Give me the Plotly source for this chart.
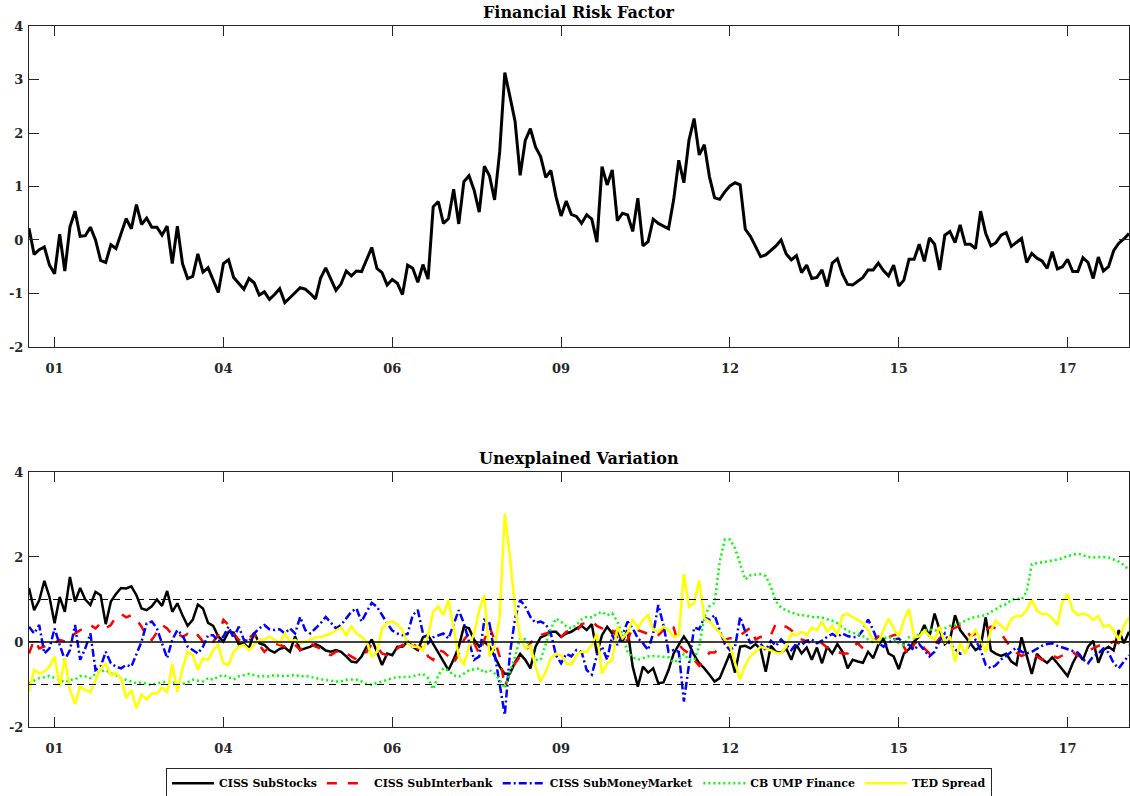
import plotly.graph_objects as go

# ---------------- data (monthly observations, index 0..215) ----------------
tick_labels = ["01", "04", "06", "09", "12", "15", "17"]
tick_index = [5, 38, 71, 104, 137, 170, 203]

financial_risk_factor = [
    0.22, -0.27, -0.18, -0.13, -0.47, -0.63, 0.11, -0.58, 0.24, 0.54,
    0.07, 0.08, 0.24, 0.0, -0.38, -0.42, -0.09, -0.16, 0.12, 0.40,
    0.21, 0.66, 0.29, 0.41, 0.24, 0.24, 0.09, 0.26, -0.44, 0.26,
    -0.44, -0.72, -0.68, -0.26, -0.60, -0.52, -0.75, -0.98, -0.44, -0.37,
    -0.70, -0.80, -0.92, -0.72, -0.80, -1.03, -0.97, -1.11, -1.02, -0.91,
    -1.17, -1.08, -0.98, -0.89, -0.92, -1.00, -1.10, -0.71, -0.52, -0.74,
    -0.94, -0.82, -0.58, -0.67, -0.58, -0.59, -0.35, -0.14,
    -0.53, -0.61, -0.84, -0.74, -0.81, -1.02, -0.47, -0.53, -0.79, -0.46,
    -0.73, 0.62, 0.72, 0.31, 0.40, 0.95, 0.30, 1.09, 1.20, 0.93,
    0.52, 1.38, 1.20, 0.75, 1.65, 3.13, 2.68, 2.22, 1.21, 1.86,
    2.08, 1.74, 1.56, 1.17, 1.30, 0.81, 0.45, 0.73, 0.48, 0.44,
    0.31, 0.47, 0.39, -0.04, 1.37, 1.03, 1.31, 0.36, 0.50, 0.47,
    0.16, 0.78, -0.11, -0.03, 0.39, 0.31, 0.26, 0.21, 0.75, 1.49,
    1.07, 1.87, 2.27, 1.59, 1.78, 1.18, 0.79, 0.76, 0.90, 1.01,
    1.07, 1.03, 0.20,
    0.07, -0.12, -0.31, -0.28, -0.19, -0.11, 0.0, -0.26, -0.37,
    -0.29, -0.61, -0.47, -0.72, -0.70, -0.56, -0.87, -0.43, -0.35, -0.64,
    -0.83, -0.84, -0.77, -0.70, -0.56, -0.56, -0.43, -0.57, -0.67, -0.47,
    -0.86, -0.75, -0.36, -0.36, -0.08, -0.40, 0.04, -0.08, -0.56, 0.09,
    0.16, -0.05, 0.28, -0.08, -0.08, -0.16, 0.54, 0.12, -0.11, -0.05,
    0.09, 0.14, -0.12, -0.05, 0.03, -0.42, -0.25, -0.34, -0.39, -0.53,
    -0.22, -0.54, -0.50, -0.36, -0.59, -0.59, -0.33, -0.42, -0.72, -0.32,
    -0.58, -0.50, -0.20, -0.06, 0.02, 0.12,
]

ciss_substocks = [
    1.27, 0.75, 0.98, 1.44, 1.06, 0.44, 1.06, 0.71, 1.53, 0.95,
    1.27, 1.00, 0.87, 1.18, 1.10, 0.42, 0.95, 1.13, 1.27, 1.26,
    1.31, 1.10, 0.79, 0.75, 0.84, 1.00, 0.85, 1.20, 0.71, 0.91,
    0.63, 0.38, 0.52, 0.88, 0.79, 0.45, 0.38, 0.13, 0.01, 0.24,
    0.22, -0.06, -0.03, -0.15, 0.22, -0.03, -0.07, -0.19, -0.25, -0.16,
    -0.13, -0.23, 0.13, -0.19,
    -0.15, -0.11, -0.05, -0.11, -0.20, -0.23, -0.19, -0.23, -0.34, -0.46,
    -0.48, -0.34, -0.11, 0.06, -0.23, -0.54, -0.27, -0.31, -0.11, -0.11,
    0.01, -0.11, -0.19, 0.11, 0.16, -0.05, -0.23, -0.46, -0.66, -0.41,
    -0.11, 0.36, 0.32, 0.05, -0.11, 0.01, -0.11, -0.34, -0.58, -0.75,
    -0.74, -0.48, -0.28, -0.42, -0.62, -0.11, 0.11, 0.16, 0.24, 0.24,
    0.12, 0.20, 0.24, 0.32,
    0.38, 0.28, 0.42, -0.27, 0.16, 0.36, 0.20, 0.28, 0.01, 0.28,
    -0.58, -1.05, -0.58, -0.72, -0.62, -0.97, -0.95, -0.66, -0.27, -0.07,
    0.13, -0.05, -0.31, -0.50, -0.62, -0.77, -0.93, -0.85, -0.58, -0.27,
    -0.72, -0.11, -0.09, -0.15, -0.05, -0.17, -0.70, -0.09, -0.23, -0.25,
    -0.15, -0.42, -0.07, -0.27, -0.13, -0.42, -0.13, -0.50, -0.11, -0.27,
    -0.05, -0.23, -0.62, -0.42, -0.46,
    -0.49, -0.23, -0.38, -0.07, 0.09, -0.27, -0.34, -0.64, -0.27, -0.17,
    0.01, 0.13, 0.40, 0.13, 0.67, 0.28, -0.05, 0.05, 0.63, 0.28,
    0.13, -0.03, -0.19, -0.11, 0.58, -0.20, -0.28, -0.33, -0.28, -0.46,
    -0.54, 0.11, -0.34, -0.75, -0.28, -0.41, -0.49, -0.36, -0.50, -0.66,
    -0.80, -0.50, -0.27, -0.42, -0.11, 0.03, -0.49, -0.19, -0.11, -0.20,
    0.28, -0.03, 0.24,
]

ciss_subinterbank = [
    -0.27, 0.05, -0.15, -0.11, -0.07, -0.02, 0.05, 0.01, 0.09, 0.20,
    0.28, 0.32, 0.40, 0.32, 0.44, 0.32, 0.40, 0.59, 0.66, 0.58,
    0.63, 0.53, 0.36, 0.12, 0.05, 0.24, 0.40, 0.32, 0.16, 0.20,
    0.12, 0.19, 0.09, 0.16, 0.01, 0.09, 0.01, 0.16, 0.52, 0.40,
    0.20, 0.05, 0.01, 0.09, 0.20, -0.07, -0.23, -0.11, -0.03, -0.07,
    -0.11, -0.02, -0.07, -0.19,
    -0.07, -0.03, -0.11, -0.15, -0.27, -0.31, -0.23, -0.20, -0.27, -0.34,
    -0.41, -0.31, -0.23, -0.05, -0.11, -0.27, -0.31, -0.28, -0.15, -0.07,
    -0.11, -0.03, -0.15, -0.09, -0.34, -0.42, -0.19, -0.23, -0.34, -0.50,
    -0.27, 0.05, 0.20, -0.03, -0.27, 0.05, 0.36, 0.05, -0.34, -1.05,
    -0.74, -0.50, -0.34, -0.23, -0.03, 0.12, 0.16, 0.20, 0.24, 0.20,
    0.12, 0.24, 0.28, 0.24,
    0.42, 0.45, 0.48, 0.38, 0.32, 0.38, 0.28, 0.11, -0.03, 0.05,
    0.34, 0.28, 0.24, 0.19, 0.14, 0.16, 0.28, 0.42, 0.34, -0.07,
    -0.19, -0.27, -0.42, -0.56, -0.42, -0.25, -0.25, -0.13, 0.05, 0.09,
    0.09, 0.16, 0.24, 0.34, 0.06, 0.12, 0.09, 0.16, 0.44, 0.38,
    0.36, 0.28, 0.14, 0.06, 0.01, -0.03, 0.01, -0.03, -0.13, -0.20,
    -0.23, -0.27, -0.27, -0.09, -0.03,
    -0.15, -0.07, 0.01, 0.13, 0.05, 0.11, 0.16, 0.19, -0.11, -0.34,
    -0.05, 0.05, -0.15, -0.27, -0.07, 0.09, 0.19, 0.28, 0.34, 0.38,
    0.30, 0.14, 0.19, 0.24, 0.28, 0.36, 0.32, 0.20, 0.01, -0.15,
    -0.25, -0.33, -0.28, -0.31, -0.34, -0.42, -0.36, -0.31, -0.38, -0.31,
    -0.25, -0.23, -0.33, -0.28, -0.20, -0.15, -0.09, -0.05, -0.05, 0.01,
    -0.03, -0.13, -0.07,
]

ciss_submoneymarket = [
    0.36, 0.20, 0.40, -0.27, -0.15, 0.32, -0.07, -0.42, -0.19, 0.40,
    -0.42, -0.15, 0.20, -0.66, -0.58, -0.23, -0.50, -0.58, -0.62, -0.54,
    -0.58, -0.27, 0.01, 0.44, 0.48, 0.32, -0.03, -0.38, 0.05, 0.28,
    0.16, -0.11, -0.19, -0.27, -0.11, 0.16, 0.16, 0.01, 0.13, 0.36,
    0.09, 0.36, 0.05, 0.01, 0.20, 0.32, 0.40, 0.30, 0.28, 0.30,
    0.20, 0.32, 0.20, 0.59,
    0.28, 0.20, 0.32, 0.44, 0.59, 0.45, 0.32, 0.40, 0.55, 0.71,
    0.79, 0.48, 0.71, 0.92, 0.83, 0.63, 0.44, 0.27, 0.20, 0.16,
    0.19, 0.63, 0.75, 0.20, -0.03, 0.11, 0.16, 0.20, 0.08, 0.44,
    0.75, 0.44, 0.01, -0.42, -0.34, 0.52, 0.44, -0.27, -1.05, -1.72,
    -0.27, 0.55, 0.99, 0.83, 0.59, 0.45, 0.48, 0.42, 0.20, -0.31,
    -0.50, -0.28, -0.34, -0.19,
    -0.23, -0.66, -0.77, -0.31, -0.11, -0.42, 0.16, -0.07, 0.16, 0.48,
    0.32, 0.09, -0.03, -0.19, 0.20, 0.87, 0.40, -0.23, -0.19, -0.23,
    -1.40, -0.50, 0.34, 0.30, 0.58, 0.52, 0.63, 0.28, -0.05, -0.19,
    -0.11, 0.59, 0.24, -0.02, 0.03, -0.05, -0.19, 0.03, -0.09, 0.06,
    -0.07, -0.19, -0.03, -0.07, 0.03, 0.06, -0.03, 0.03, 0.12, 0.19,
    0.12, 0.20, 0.14, 0.11, 0.12,
    0.28, 0.53, 0.28, -0.02, -0.11, -0.02, 0.06, 0.08, -0.03, -0.07,
    -0.19, -0.05, -0.19, -0.34, -0.23, 0.03, 0.20, -0.05, -0.17, -0.28,
    -0.23, -0.03, 0.05, -0.19, -0.54, -0.62, -0.54, -0.41, -0.33, -0.23,
    -0.13, -0.23, -0.27, -0.23, -0.15, -0.09, -0.05, -0.03, -0.09, -0.13,
    -0.16, -0.20, -0.25, -0.41, -0.50, -0.34, -0.27, -0.15, -0.25, -0.50,
    -0.62, -0.46, -0.31,
]

cb_ump_finance = [
    -0.97, -0.91, -0.85, -0.83, -0.80, -0.85, -0.89, -0.95, -0.89, -0.88,
    -0.80, -0.81, -0.85, -0.74, -0.70, -0.66, -0.74, -0.78, -0.85, -0.89,
    -0.93, -0.97, -0.95, -0.99, -1.01, -0.97, -0.95, -0.93, -0.95, -0.97,
    -0.99, -0.95, -0.89, -0.91, -0.93, -0.85, -0.89, -0.81, -0.78, -0.83,
    -0.88, -0.81, -0.78, -0.75, -0.78, -0.81, -0.80, -0.81, -0.78, -0.80,
    -0.81, -0.78, -0.78, -0.81,
    -0.80, -0.82, -0.85, -0.88, -0.89, -0.91, -0.93, -0.93, -0.89, -0.88,
    -0.89, -0.93, -0.99, -1.01, -0.96, -0.93, -0.89, -0.85, -0.83, -0.82,
    -0.83, -0.80, -0.78, -0.75, -0.85, -1.11, -0.78, -0.62, -0.67, -0.78,
    -0.82, -0.74, -0.67, -0.64, -0.62, -0.72, -0.66, -0.74, -0.89, -1.09,
    -0.74, -0.34, 0.09, 0.06, -0.11, -0.42, -0.42, -0.03, 0.32, 0.55,
    0.48, 0.37, 0.32, 0.40,
    0.53, 0.59, 0.58, 0.66, 0.71, 0.63, 0.67, 0.48, 0.16, -0.23,
    -0.36, -0.42, -0.38, -0.34, -0.33, -0.34, -0.34, -0.36, -0.48, -0.42,
    -0.28, -0.42, -0.42, -0.11, 0.59, 0.84, 0.92, 1.89, 2.41, 2.41,
    2.20, 1.85, 1.47, 1.57, 1.59, 1.60, 1.55, 1.30, 0.95, 0.81,
    0.74, 0.69, 0.65, 0.63, 0.62, 0.59, 0.59, 0.57, 0.53, 0.50,
    0.44, 0.34, 0.26, 0.22, 0.19,
    0.14, 0.05, -0.02, 0.05, 0.09, 0.11, 0.09, -0.03, -0.07, 0.11,
    0.09, 0.19, 0.27, 0.30, 0.27, 0.28, 0.32, 0.38, 0.40, 0.44,
    0.50, 0.56, 0.59, 0.61, 0.63, 0.71, 0.77, 0.85, 0.89, 0.99,
    1.03, 1.00, 1.18, 1.83, 1.85, 1.87, 1.89, 1.91, 1.94, 1.97,
    2.02, 2.05, 2.08, 2.04, 2.00, 1.99, 2.00, 2.00, 1.99, 1.94,
    1.89, 1.81, 1.69,
]

ted_spread = [
    -1.17, -0.66, -0.74, -0.70, -0.58, -0.34, -1.05, -0.38, -1.13, -1.46,
    -1.05, -1.13, -1.18, -0.89, -0.62, -0.52, -0.78, -0.74, -0.85, -1.32,
    -1.13, -1.56, -1.24, -1.35, -1.21, -1.21, -1.07, -1.19, -0.52, -1.17,
    -0.62, -0.23, -0.31, -0.66, -0.38, -0.42, -0.19, -0.07, -0.50, -0.54,
    -0.23, -0.11, -0.07, -0.19, -0.07, 0.05, 0.05, 0.13, 0.05, -0.03,
    0.20, 0.01, 0.05, -0.03,
    0.01, 0.05, 0.11, 0.12, 0.16, 0.20, 0.27, 0.34, 0.16, 0.37,
    0.20, 0.12, 0.01, -0.34, -0.23, 0.32, 0.45, 0.48, 0.42, 0.27,
    -0.03, -0.11, -0.11, -0.20, 0.16, 0.71, 0.84, 0.63, 0.99, 0.36,
    -0.34, -0.54, -0.11, 0.20, 0.75, 1.10, -0.34, -0.11, 0.60, 3.02,
    2.00, 0.80, 0.12, -0.15, -0.09, -0.58, -0.93, -0.70, -0.38, -0.28,
    -0.31, -0.50, -0.54, -0.31,
    -0.23, -0.23, -0.07, 0.20, -0.74, -0.50, -0.42, 0.36, 0.09, 0.22,
    0.53, 0.32, 0.52, 0.63, 0.28, 0.24, 0.36, 0.28, 0.12, 0.16,
    1.60, 0.83, 0.92, 1.45, 0.56, 0.48, 0.36, 0.22, 0.06, -0.07,
    -0.50, -0.88, -0.54, -0.34, -0.23, -0.11, -0.15, -0.20, -0.25, -0.27,
    -0.11, 0.20, 0.16, 0.24, 0.16, 0.34, 0.28, 0.48, 0.24, 0.38,
    0.16, 0.63, 0.66, 0.58, 0.52,
    0.44, 0.28, 0.05, -0.02, 0.28, 0.55, 0.32, 0.13, 0.52, 0.77,
    0.11, 0.13, 0.27, 0.14, 0.05, 0.36, -0.03, 0.13, -0.46, -0.03,
    -0.28, 0.11, 0.28, 0.01, -0.23, 0.28, 0.50, 0.38, 0.28, 0.55,
    0.61, 0.61, 0.75, 0.99, 0.74, 0.66, 0.66, 0.56, 0.40, 0.95,
    1.13, 0.75, 0.63, 0.67, 0.63, 0.52, 0.61, 0.36, 0.40, 0.28,
    0.05, 0.38, 0.58,
]

reference_levels = [-1, 0, 1]
top_yticks = [-2, -1, 0, 1, 2, 3, 4]
bottom_yticks = [-2, 0, 2, 4]

# ---------------- figure ----------------
n = len(financial_risk_factor)
x = list(range(n))

FONT = "DejaVu Serif"
AX = "#262626"

fig = go.Figure()

fig.add_trace(go.Scatter(x=x, y=financial_risk_factor, mode="lines",
                         line=dict(color="black", width=3),
                         xaxis="x", yaxis="y", showlegend=False))

series = [
    ("CISS SubStocks", ciss_substocks, dict(color="black", width=2.5, dash="solid")),
    ("CISS SubInterbank", ciss_subinterbank, dict(color="#FF0000", width=2.5, dash="10px,11px")),
    ("CISS SubMoneyMarket", ciss_submoneymarket, dict(color="#0000FF", width=2.5, dash="8px,3px,2px,3px")),
    ("CB UMP Finance", cb_ump_finance, dict(color="#00FF00", width=2.5, dash="2px,3px")),
    ("TED Spread", ted_spread, dict(color="#FFFF00", width=2.5, dash="solid")),
]
for name, vals, ln in series:
    fig.add_trace(go.Scatter(x=x, y=vals, mode="lines", name=name, line=ln,
                             xaxis="x2", yaxis="y2"))

for lvl in reference_levels:
    fig.add_shape(type="line", xref="x2 domain", yref="y2", x0=0, x1=1, y0=lvl, y1=lvl,
                  line=dict(color="black", width=1.5 if lvl == 0 else 1,
                            dash="solid" if lvl == 0 else "7px,5px"),
                  layer="above")

axis_common = dict(showline=True, linecolor=AX, linewidth=1, mirror="ticks",
                   ticks="inside", ticklen=10, tickwidth=1, tickcolor=AX,
                   showgrid=False, zeroline=False,
                   tickfont=dict(family=FONT, size=13, color=AX, weight="bold"))

top_dom = [0.5421, 1.0]
bot_dom = [0.0, 0.3638]

fig.update_layout(
    width=1130, height=796,
    paper_bgcolor="white", plot_bgcolor="white",
    margin=dict(l=29, r=1, t=26, b=69, autoexpand=False),
    xaxis=dict(domain=[0, 1], anchor="y", range=[0, n - 1],
               tickvals=tick_index, ticktext=tick_labels, ticklabelstandoff=9, **axis_common),
    yaxis=dict(domain=top_dom, anchor="x", range=[-2, 4], tickvals=top_yticks,
               ticktext=[str(v) for v in top_yticks], ticklabelstandoff=2, **axis_common),
    xaxis2=dict(domain=[0, 1], anchor="y2", range=[0, n - 1],
                tickvals=tick_index, ticktext=tick_labels, ticklabelstandoff=9, **axis_common),
    yaxis2=dict(domain=bot_dom, anchor="x2", range=[-2, 4], tickvals=bottom_yticks,
                ticktext=[str(v) for v in bottom_yticks], ticklabelstandoff=2, **axis_common),
    legend=dict(orientation="h", x=0.5, xanchor="center", y=-0.058, yanchor="top",
                bordercolor=AX, borderwidth=1, bgcolor="white",
                font=dict(family=FONT, size=11, color="black", weight="bold"),
                tracegroupgap=0, itemwidth=42),
    showlegend=True,
)

titles = [("Financial Risk Factor", top_dom[1]), ("Unexplained Variation", bot_dom[1])]
for text, ytop in titles:
    fig.add_annotation(text=text, xref="paper", yref="paper", x=0.5, y=ytop,
                       xanchor="center", yanchor="bottom", yshift=2, showarrow=False,
                       font=dict(family=FONT, size=16, color="black", weight="bold"))

fig.write_html("out.html", config={"displayModeBar": False},
               post_script="document.body.style.margin='0';"
                           "document.body.style.overflow='hidden';")
